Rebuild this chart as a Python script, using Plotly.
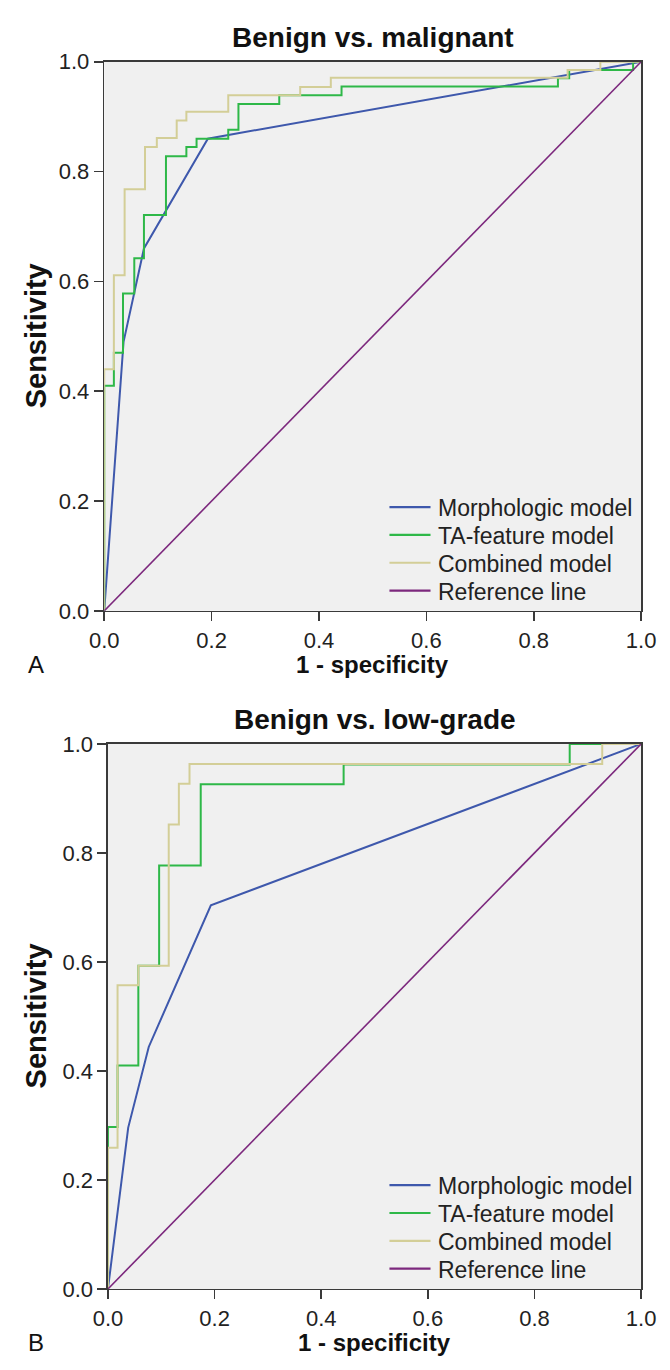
import plotly.graph_objects as go

# ---------------- data ----------------
tick_vals = [0.0, 0.2, 0.4, 0.6, 0.8, 1.0]
tick_text = ["0.0", "0.2", "0.4", "0.6", "0.8", "1.0"]
series_names = ["Morphologic model", "TA-feature model", "Combined model", "Reference line"]
panel_titles = ["Benign vs. malignant", "Benign vs. low-grade"]
panel_letters = ["A", "B"]

# Panel A: benign vs. malignant
morph_a_x = [0, 0.036, 0.074, 0.193, 1.0]
morph_a_y = [0, 0.49, 0.66, 0.86, 1.0]
ta_a_x = [0, 0, 0.018, 0.035, 0.056, 0.074, 0.115, 0.153, 0.172, 0.231, 0.25, 0.326, 0.442, 0.845, 0.866, 0.985, 1.0]
ta_a_y = [0, 0.41, 0.47, 0.578, 0.642, 0.721, 0.828, 0.845, 0.86, 0.876, 0.923, 0.939, 0.955, 0.97, 0.985, 1.0, 1.0]
comb_a_x = [0, 0, 0.018, 0.038, 0.076, 0.098, 0.135, 0.153, 0.231, 0.365, 0.422, 0.863, 0.924, 1.0]
comb_a_y = [0, 0.44, 0.611, 0.768, 0.845, 0.861, 0.893, 0.909, 0.939, 0.954, 0.971, 0.985, 1.0, 1.0]

# Panel B: benign vs. low-grade
morph_b_x = [0, 0.038, 0.0765, 0.193, 1.0]
morph_b_y = [0, 0.296, 0.444, 0.704, 1.0]
ta_b_x = [0, 0, 0.018, 0.057, 0.096, 0.174, 0.442, 0.866, 1.0]
ta_b_y = [0, 0.297, 0.41, 0.593, 0.777, 0.926, 0.962, 1.0, 1.0]
comb_b_x = [0, 0, 0.018, 0.057, 0.114, 0.133, 0.153, 0.927, 1.0]
comb_b_y = [0, 0.259, 0.557, 0.593, 0.852, 0.927, 0.963, 1.0, 1.0]

ref_x = [0, 1]
ref_y = [0, 1]

# ---------------- styling ----------------
W, H = 670, 1370
colors = ["#3E58AC", "#2EB848", "#D3CE97", "#7C287D"]
widths = [2, 2, 2, 1.6]
FONT = "Arial, Liberation Sans, sans-serif"
AX = "#3a3a3a"

def px(x):
    return x / W

def py(y):
    return 1 - y / H

# plot areas in pixels: (left, right, top, bottom)
areas = [(93.4, 655.5, 50.7, 610.0), (97.3, 655.5, 745.5, 1300.7)]

fig = go.Figure()

panels = [
    [(morph_a_x, morph_a_y, "linear"), (ta_a_x, ta_a_y, "hv"), (comb_a_x, comb_a_y, "hv"), (ref_x, ref_y, "linear")],
    [(morph_b_x, morph_b_y, "linear"), (ta_b_x, ta_b_y, "hv"), (comb_b_x, comb_b_y, "hv"), (ref_x, ref_y, "linear")],
]

for p, series in enumerate(panels):
    xa = "x" if p == 0 else "x2"
    ya = "y" if p == 0 else "y2"
    for i, (xs, ys, shape) in enumerate(series):
        fig.add_trace(go.Scatter(
            x=xs, y=ys, mode="lines", name=series_names[i],
            line=dict(color=colors[i], width=widths[i], shape=shape),
            xaxis=xa, yaxis=ya, showlegend=False, hoverinfo="skip",
        ))

axis_common = dict(
    range=[0, 1], tickvals=tick_vals, ticktext=tick_text, ticks="outside",
    ticklen=9, tickwidth=1.5, tickcolor=AX, showline=True, mirror=True,
    linecolor=AX, linewidth=1.5, showgrid=False, zeroline=False,
    tickfont=dict(family=FONT, size=22, color="#222"), fixedrange=True,
    ticklabeloverflow="allow",
)

layout_axes = {}
for p, (l, r, t, b) in enumerate(areas):
    sx = "xaxis" if p == 0 else "xaxis2"
    sy = "yaxis" if p == 0 else "yaxis2"
    layout_axes[sx] = dict(axis_common, domain=[px(l), px(r)], anchor="y" if p == 0 else "y2")
    layout_axes[sy] = dict(axis_common, domain=[py(b), py(t)], anchor="x" if p == 0 else "x2")

annotations = []
shapes = []
for p, (l, r, t, b) in enumerate(areas):
    cx = (l + r) / 2
    cy = (t + b) / 2
    # title
    annotations.append(dict(text="<b>%s</b>" % panel_titles[p], x=px(cx), y=py(t - 25),
                            xref="paper", yref="paper", showarrow=False,
                            xanchor="center", yanchor="middle",
                            font=dict(family=FONT, size=28, color="#111")))
    # x axis title
    annotations.append(dict(text="<b>1 - specificity</b>", x=px(cx), y=py(b + 55),
                            xref="paper", yref="paper", showarrow=False,
                            xanchor="center", yanchor="middle",
                            font=dict(family=FONT, size=24, color="#111")))
    # y axis title
    annotations.append(dict(text="<b>Sensitivity</b>", x=px(22), y=py(cy),
                            xref="paper", yref="paper", showarrow=False, textangle=-90,
                            xanchor="center", yanchor="middle",
                            font=dict(family=FONT, size=29, color="#111")))
    # panel letter
    annotations.append(dict(text=panel_letters[p], x=px(11), y=py(b + 55),
                            xref="paper", yref="paper", showarrow=False,
                            xanchor="left", yanchor="middle",
                            font=dict(family=FONT, size=24, color="#111")))
    # legend (drawn inside plot, lower right)
    row_offsets = [105.7, 77.4, 49.0, 20.7]
    for i, name in enumerate(series_names):
        ry = b - row_offsets[i]
        shapes.append(dict(type="line", xref="paper", yref="paper",
                           x0=px(392), x1=px(435), y0=py(ry), y1=py(ry),
                           line=dict(color=colors[i], width=2.2)))
        annotations.append(dict(text=name, x=px(441), y=py(ry + 1),
                                xref="paper", yref="paper", showarrow=False,
                                xanchor="left", yanchor="middle",
                                font=dict(family=FONT, size=23, color="#222")))

fig.update_layout(
    width=W, height=H, autosize=False,
    margin=dict(l=0, r=0, t=0, b=0),
    paper_bgcolor="white", plot_bgcolor="#f0f0f0",
    showlegend=False, annotations=annotations, shapes=shapes,
    **layout_axes,
)

fig.write_html(
    "out.html",
    config={"displayModeBar": False, "staticPlot": True},
    post_script=(
        "document.body.style.margin='0';"
        "document.body.style.overflow='hidden';"
        "document.documentElement.style.overflow='hidden';"
    ),
)
